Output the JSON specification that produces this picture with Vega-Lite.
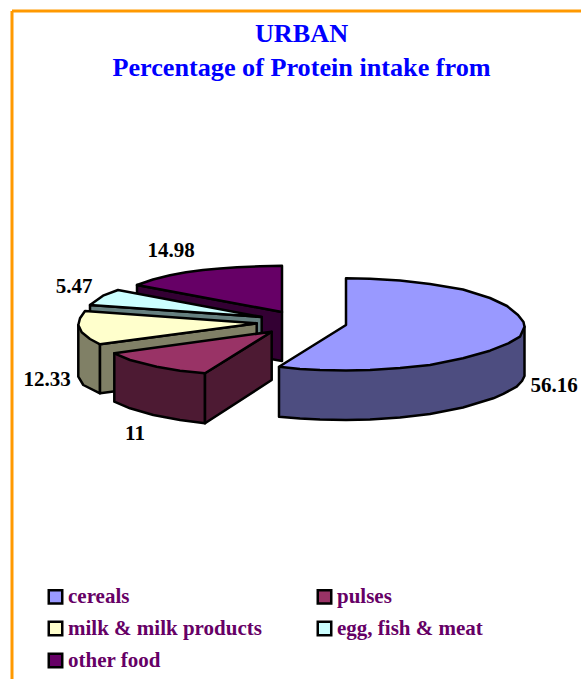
{
"$schema":"https://vega.github.io/schema/vega-lite/v6.json",
"width":581,"height":679,"padding":0,"autosize":{"type":"none"},"background":"white",
"title":{"text":["URBAN","Percentage of Protein intake from"],"font":"Liberation Serif","fontWeight":"bold","fontSize":26.2,"lineHeight":34,"color":"#0000FF","anchor":"middle","dx":11,"dy":102,"baseline":"alphabetic","offset":0},
"config":{"view":{"stroke":null}},
"encoding":{
"x":{"field":"x","type":"quantitative","scale":{"domain":[0,581],"nice":false,"zero":false},"axis":null},
"y":{"field":"y","type":"quantitative","scale":{"domain":[679,0],"nice":false,"zero":false},"axis":null}
},
"layer":[
{"data":{"values":[{"x":12,"y":11,"x2":581,"y2":11},{"x":12,"y":11,"x2":12,"y2":679}]},
"mark":{"type":"rule","color":"#FF9900","strokeWidth":3},
"encoding":{"x2":{"field":"x2"},"y2":{"field":"y2"}}},
{"data":{"values":[
{"part":"other food side","poly":"a","i":1,"x":137,"y":285},{"part":"other food side","poly":"a","i":2,"x":282,"y":312},{"part":"other food side","poly":"a","i":3,"x":282,"y":361},{"part":"other food side","poly":"a","i":4,"x":137,"y":335},
{"part":"other food","poly":"b","i":1,"x":137,"y":285},{"part":"other food","poly":"b","i":2,"x":153,"y":279.5},{"part":"other food","poly":"b","i":3,"x":170,"y":275.3},{"part":"other food","poly":"b","i":4,"x":186,"y":272.3},{"part":"other food","poly":"b","i":5,"x":203,"y":270},{"part":"other food","poly":"b","i":6,"x":220,"y":268.4},{"part":"other food","poly":"b","i":7,"x":237,"y":267.3},{"part":"other food","poly":"b","i":8,"x":260,"y":266.2},{"part":"other food","poly":"b","i":9,"x":282,"y":265.7},{"part":"other food","poly":"b","i":10,"x":282,"y":312},
{"part":"egg side","poly":"c","i":1,"x":90,"y":305},{"part":"egg side","poly":"c","i":2,"x":261.7,"y":317},{"part":"egg side","poly":"c","i":3,"x":261.7,"y":367},{"part":"egg side","poly":"c","i":4,"x":90,"y":355},
{"part":"egg, fish & meat","poly":"d","i":1,"x":90,"y":305},{"part":"egg, fish & meat","poly":"d","i":2,"x":103,"y":295.7},{"part":"egg, fish & meat","poly":"d","i":3,"x":118,"y":290},{"part":"egg, fish & meat","poly":"d","i":4,"x":261.7,"y":317},
{"part":"milk side","poly":"e","i":1,"x":78.3,"y":325},{"part":"milk side","poly":"e","i":2,"x":78.3,"y":376.7},{"part":"milk side","poly":"e","i":3,"x":83.3,"y":385},{"part":"milk side","poly":"e","i":4,"x":100,"y":393.3},{"part":"milk side","poly":"e","i":5,"x":100,"y":344.3},
{"part":"milk side","poly":"f","i":1,"x":100,"y":344.3},{"part":"milk side","poly":"f","i":2,"x":100,"y":393.3},{"part":"milk side","poly":"f","i":3,"x":256.7,"y":373},{"part":"milk side","poly":"f","i":4,"x":256.7,"y":323.3},
{"part":"milk & milk products","poly":"g","i":1,"x":85,"y":311},{"part":"milk & milk products","poly":"g","i":2,"x":80,"y":318.3},{"part":"milk & milk products","poly":"g","i":3,"x":78.3,"y":325},{"part":"milk & milk products","poly":"g","i":4,"x":81.7,"y":332.3},{"part":"milk & milk products","poly":"g","i":5,"x":90,"y":339},{"part":"milk & milk products","poly":"g","i":6,"x":100,"y":344.3},{"part":"milk & milk products","poly":"g","i":7,"x":256.7,"y":323.3},
{"part":"pulses side","poly":"h","i":1,"x":114.3,"y":353.3},{"part":"pulses side","poly":"h","i":2,"x":114.3,"y":401.7},{"part":"pulses side","poly":"h","i":3,"x":130,"y":408.3},{"part":"pulses side","poly":"h","i":4,"x":153.3,"y":415},{"part":"pulses side","poly":"h","i":5,"x":180,"y":420},{"part":"pulses side","poly":"h","i":6,"x":205,"y":423.3},{"part":"pulses side","poly":"h","i":7,"x":205,"y":373.3},
{"part":"pulses side","poly":"i","i":1,"x":205,"y":373.3},{"part":"pulses side","poly":"i","i":2,"x":205,"y":423.3},{"part":"pulses side","poly":"i","i":3,"x":271.7,"y":380},{"part":"pulses side","poly":"i","i":4,"x":271.7,"y":331.7},
{"part":"pulses","poly":"j","i":1,"x":114.3,"y":353.3},{"part":"pulses","poly":"j","i":2,"x":130,"y":360},{"part":"pulses","poly":"j","i":3,"x":156.7,"y":366.7},{"part":"pulses","poly":"j","i":4,"x":180,"y":370.7},{"part":"pulses","poly":"j","i":5,"x":205,"y":373.3},{"part":"pulses","poly":"j","i":6,"x":271.7,"y":331.7},
{"part":"cereals side","poly":"k","i":1,"x":279,"y":367},{"part":"cereals side","poly":"k","i":2,"x":279,"y":416.7},{"part":"cereals side","poly":"k","i":3,"x":300,"y":418.5},{"part":"cereals side","poly":"k","i":4,"x":320,"y":419.5},{"part":"cereals side","poly":"k","i":5,"x":346,"y":420},{"part":"cereals side","poly":"k","i":6,"x":370,"y":419.5},{"part":"cereals side","poly":"k","i":7,"x":400,"y":417.5},{"part":"cereals side","poly":"k","i":8,"x":430,"y":414},{"part":"cereals side","poly":"k","i":9,"x":463,"y":407.5},{"part":"cereals side","poly":"k","i":10,"x":493.3,"y":398.3},{"part":"cereals side","poly":"k","i":11,"x":503.3,"y":393.8},{"part":"cereals side","poly":"k","i":12,"x":516.7,"y":386.7},{"part":"cereals side","poly":"k","i":13,"x":522,"y":381},{"part":"cereals side","poly":"k","i":14,"x":524.5,"y":376},{"part":"cereals side","poly":"k","i":15,"x":524.5,"y":326.7},
{"part":"cereals","poly":"l","i":1,"x":346,"y":325},{"part":"cereals","poly":"l","i":2,"x":346,"y":278.3},{"part":"cereals","poly":"l","i":3,"x":370,"y":278.7},{"part":"cereals","poly":"l","i":4,"x":400,"y":280.5},{"part":"cereals","poly":"l","i":5,"x":430,"y":284},{"part":"cereals","poly":"l","i":6,"x":463,"y":289.5},{"part":"cereals","poly":"l","i":7,"x":490,"y":298},{"part":"cereals","poly":"l","i":8,"x":507,"y":306},{"part":"cereals","poly":"l","i":9,"x":518,"y":315},{"part":"cereals","poly":"l","i":10,"x":523.5,"y":322},{"part":"cereals","poly":"l","i":11,"x":524.5,"y":326.7},{"part":"cereals","poly":"l","i":12,"x":520,"y":336.7},{"part":"cereals","poly":"l","i":13,"x":508.3,"y":343.3},{"part":"cereals","poly":"l","i":14,"x":490,"y":350.7},{"part":"cereals","poly":"l","i":15,"x":463,"y":358.3},{"part":"cereals","poly":"l","i":16,"x":430,"y":365},{"part":"cereals","poly":"l","i":17,"x":400,"y":368},{"part":"cereals","poly":"l","i":18,"x":370,"y":370},{"part":"cereals","poly":"l","i":19,"x":346,"y":370.5},{"part":"cereals","poly":"l","i":20,"x":320,"y":370},{"part":"cereals","poly":"l","i":21,"x":300,"y":369},{"part":"cereals","poly":"l","i":22,"x":279,"y":366.7}
]},
"mark":{"type":"line","interpolate":"linear-closed","stroke":"black","strokeWidth":2.5,"strokeJoin":"round"},
"encoding":{
"detail":{"field":"poly"},
"order":{"field":"i","type":"quantitative"},
"fill":{"field":"part","type":"nominal",
"scale":{"domain":["cereals","pulses","milk & milk products","egg, fish & meat","other food","cereals side","pulses side","milk side","egg side","other food side"],
"range":["#9999FF","#993366","#FFFFCC","#CCFFFF","#660066","#4D4D80","#4D1A33","#808066","#668080","#330033"]},
"legend":{"title":null,"orient":"none","direction":"horizontal","legendX":45,"legendY":586,"columns":2,"values":["cereals","pulses","milk & milk products","egg, fish & meat","other food"],
"symbolType":"square","symbolSize":182,"symbolStrokeColor":"black","symbolStrokeWidth":2.5,"symbolOpacity":1,
"labelFont":"Liberation Serif","labelFontWeight":"bold","labelFontSize":21,"labelColor":"#660066","labelOffset":2,"labelLimit":300,"rowPadding":7,"columnPadding":50,"gridAlign":"all"}}
}},
{"data":{"values":[
{"food":"cereals","value":56.16,"x":554,"y":386},
{"food":"pulses","value":11,"x":135,"y":434},
{"food":"milk & milk products","value":12.33,"x":47,"y":380},
{"food":"egg, fish & meat","value":5.47,"x":74,"y":287},
{"food":"other food","value":14.98,"x":171,"y":251}
]},
"mark":{"type":"text","font":"Liberation Serif","fontWeight":"bold","fontSize":21,"color":"black","align":"center","baseline":"middle"},
"encoding":{"text":{"field":"value","type":"quantitative","format":".4~r"}}}
]
}
